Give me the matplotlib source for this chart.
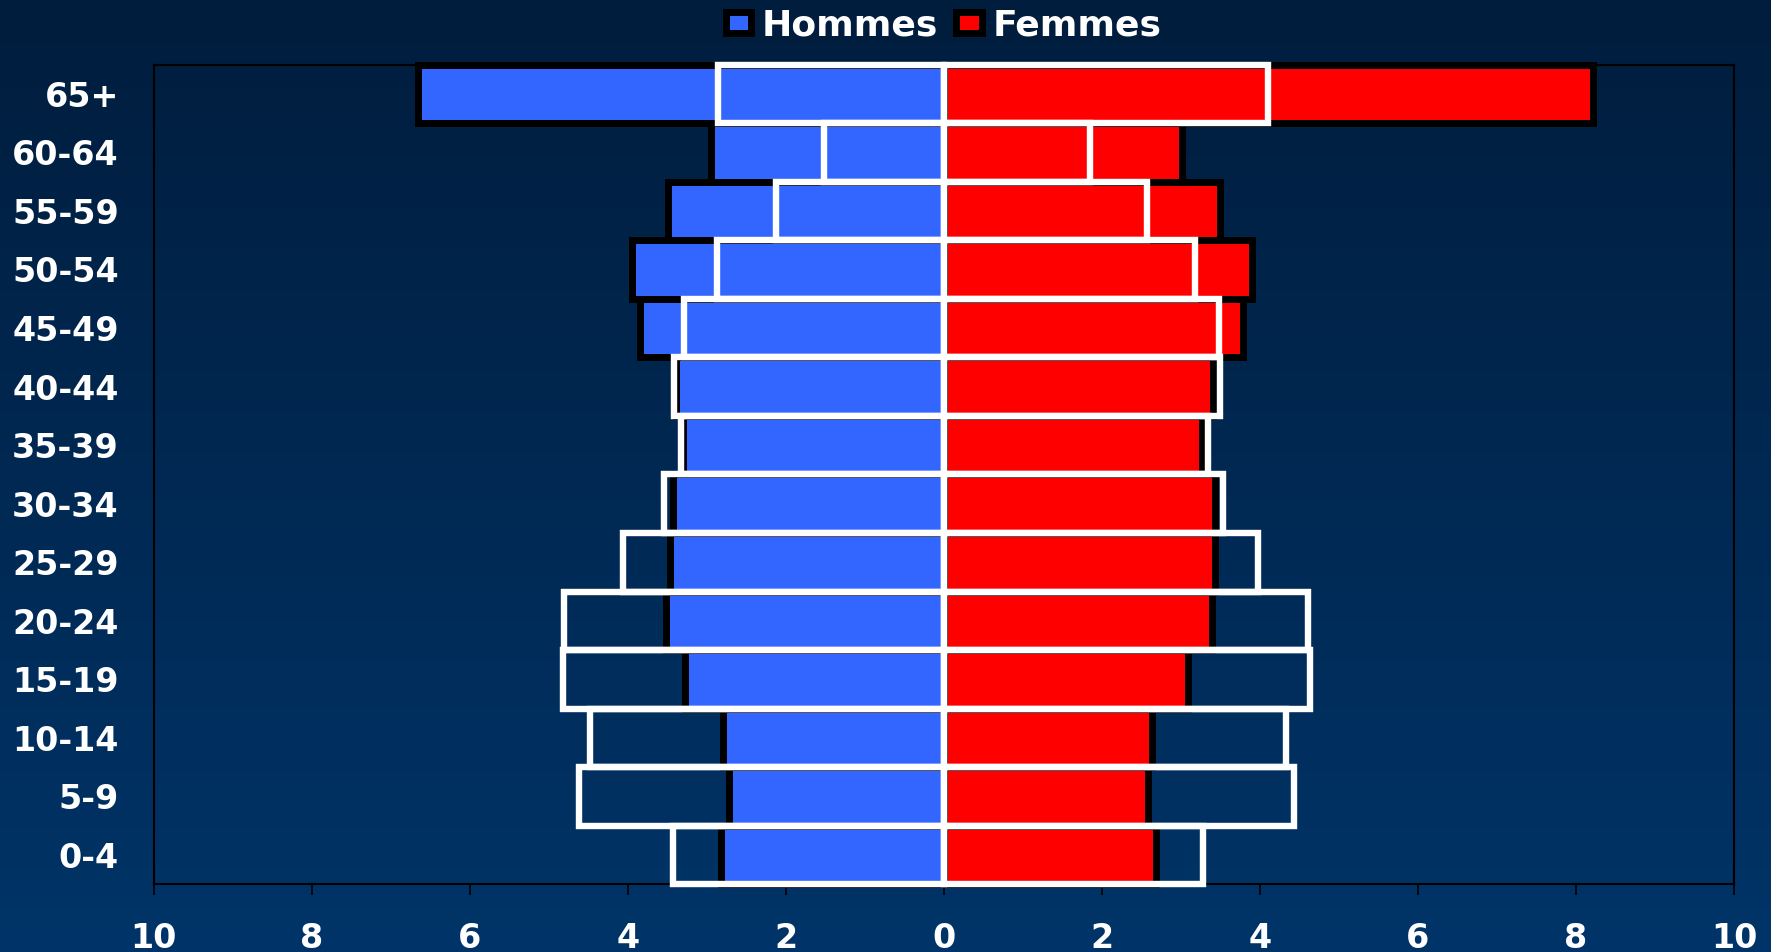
import numpy as np
import matplotlib.pyplot as plt
from matplotlib.patches import Patch

# tranches d'age, du bas vers le haut
ages = ["0-4", "5-9", "10-14", "15-19", "20-24", "25-29", "30-34",
        "35-39", "40-44", "45-49", "50-54", "55-59", "60-64", "65+"]

# pyramide pleine (barres colorées, bord noir), en %
hommes_plein = [2.82, 2.72, 2.79, 3.28, 3.51, 3.46, 3.43, 3.30, 3.39, 3.84, 3.94, 3.49, 2.95, 6.65]
femmes_plein = [2.68, 2.58, 2.64, 3.09, 3.40, 3.43, 3.43, 3.27, 3.41, 3.79, 3.90, 3.50, 3.01, 8.21]

# pyramide en contour blanc, en %
hommes_contour = [3.43, 4.61, 4.48, 4.82, 4.81, 4.06, 3.54, 3.32, 3.41, 3.29, 2.87, 2.12, 1.52, 2.86]
femmes_contour = [3.28, 4.43, 4.33, 4.63, 4.61, 3.98, 3.53, 3.34, 3.49, 3.48, 3.18, 2.57, 1.85, 4.10]

xticks = [-10, -8, -6, -4, -2, 0, 2, 4, 6, 8, 10]

bleu = "#3366FF"
rouge = "#FF0000"

plt.rcParams['font.family'] = ['DejaVu Sans']
plt.rcParams['font.weight'] = 'bold'

fig = plt.figure(figsize=(17.71, 9.52), dpi=100)

# fond en dégradé
bg = fig.add_axes([0, 0, 1, 1], zorder=-10)
grad = np.linspace(0, 1, 256).reshape(-1, 1)
top = np.array([0x00, 0x1D, 0x3D]) / 255
bot = np.array([0x00, 0x34, 0x68]) / 255
img = top + (bot - top) * grad[:, :, None]
bg.imshow(img, aspect='auto', extent=[0, 1, 0, 1])
bg.axis('off')

ax = fig.add_axes([0.0867, 0.0711, 0.8924, 0.8611])
ax.set_facecolor('none')

y = np.arange(len(ages))
ax.barh(y, -np.array(hommes_plein), height=1.0, color=bleu, edgecolor='black',
        linewidth=5, zorder=3, clip_on=False)
ax.barh(y, femmes_plein, height=1.0, color=rouge, edgecolor='black',
        linewidth=5, zorder=3, clip_on=False)
ax.barh(y, -np.array(hommes_contour), height=1.0, fill=False, edgecolor='white',
        linewidth=4.6, zorder=4, clip_on=False)
ax.barh(y, femmes_contour, height=1.0, fill=False, edgecolor='white',
        linewidth=4.6, zorder=4, clip_on=False)

ax.set_xlim(-10, 10)
ax.set_ylim(-0.5, len(ages) - 0.5)
ax.set_xticks(xticks)
ax.set_xticklabels([str(abs(t)) for t in xticks])
ax.set_yticks(y)
ax.set_yticklabels(ages)

ax.tick_params(axis='x', colors='black', length=8, width=1.2, pad=19,
               labelcolor='white', labelsize=24)
ax.tick_params(axis='y', length=0, pad=25, labelcolor='white', labelsize=24)
for s in ax.spines.values():
    s.set_color('black')
    s.set_linewidth(1.5)
    s.set_zorder(2)

handles = [Patch(facecolor=bleu, edgecolor='black', linewidth=5, label='Hommes'),
           Patch(facecolor=rouge, edgecolor='black', linewidth=5, label='Femmes')]
leg = ax.legend(handles=handles, loc='center', bbox_to_anchor=(0.5, 1.048),
                ncol=2, frameon=False, fontsize=26, labelcolor='white',
                handlelength=0.7, handleheight=0.55, handletextpad=0.3,
                columnspacing=0.5, borderaxespad=0)

fig.savefig('out.png', dpi=100)
